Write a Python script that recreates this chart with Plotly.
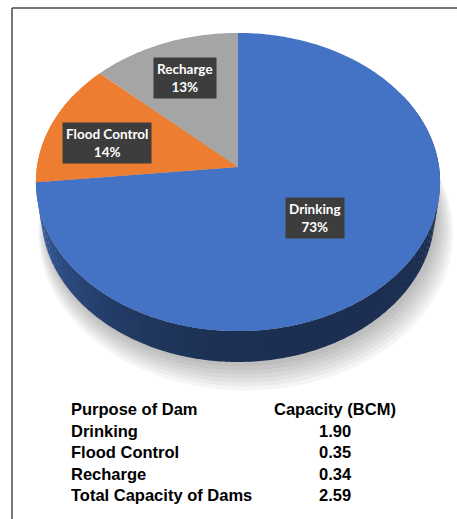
import numpy as np
import plotly.graph_objects as go

# ---------------- data ----------------
purposes = ["Drinking", "Flood Control", "Recharge"]
capacity_bcm = [1.90, 0.35, 0.34]
total_label = "Total Capacity of Dams"
table_headers = ["Purpose of Dam", "Capacity (BCM)"]

# ---------------- style ----------------
top_colors = ["#4472C4", "#ED7D31", "#A5A5A5"]
side_rgb = [(68, 114, 196), (237, 125, 49), (165, 165, 165)]
label_radius = [0.5, 0.7, 0.7]
label_yshift = [0, -8, 0]

W, H = 457, 519
# perspective projection of a unit disk (3D pie look)
ALPHA_S, ALPHA_C = 0.734, 0.679
DIST, FOCAL = 6.74, 1355.0
APEX = (238.0, 167.0)
THICK = 0.241

# table layout (pixels)
TABLE_X1, TABLE_X2 = 70, 335
TABLE_Y0, ROW_STEP = 409, 21.5
TABLE_FONT = dict(family="Liberation Sans", size=16.5, color="black")


def proj(X, Y, Z):
    yc = Y * ALPHA_S + Z * ALPHA_C
    zc = DIST + Y * ALPHA_C - Z * ALPHA_S
    return APEX[0] + FOCAL * X / zc, APEX[1] - FOCAL * yc / zc


def rim(t0, t1, r=1.0, z=0.0, n=None):
    if n is None:
        n = max(4, int(abs(t1 - t0) / 1.0) + 2)
    th = np.radians(np.linspace(t0, t1, n))
    return proj(r * np.sin(th), r * np.cos(th), z * np.ones_like(th))


total = sum(capacity_bcm)
fracs = [v / total for v in capacity_bcm]
bounds = np.concatenate([[0.0], np.cumsum(fracs) * 360.0])

fig = go.Figure()

# soft shadow under the pie (towards bottom-right)
for i in range(7):
    r = 1.0 + 0.01 * i
    xs, ys = rim(0, 360, r=r, z=-THICK - 0.02 - 0.008 * i, n=240)
    xs = xs + 3 + 0.8 * i
    ys = ys + 2 + 1.2 * i
    fig.add_trace(go.Scatter(x=xs, y=ys, fill="toself", mode="none",
                             fillcolor="rgba(0,0,0,0.04)", hoverinfo="skip",
                             showlegend=False))

# side walls (front part), shaded: lit from the left
for k in range(len(purposes)):
    a, b = bounds[k], bounds[k + 1]
    lo, hi = max(a, 60.0), min(b, 300.0)
    if hi <= lo:
        continue
    edges = np.arange(lo, hi, 3.0).tolist() + [hi]
    for t0, t1 in zip(edges[:-1], edges[1:]):
        tm = 0.5 * (t0 + t1)
        w = max(0.0, (tm - 170.0) / 100.0)
        shade = 0.42 + 0.55 * w ** 2
        shade = min(shade, 0.97)
        rr, gg, bb = [int(c * shade) for c in side_rgb[k]]
        x1, y1 = rim(t0, t1 + 0.3, z=0.0)
        x2, y2 = rim(t1 + 0.3, t0, z=-THICK)
        fig.add_trace(go.Scatter(x=np.concatenate([x1, x2]), y=np.concatenate([y1, y2]),
                                 fill="toself", mode="none",
                                 fillcolor=f"rgb({rr},{gg},{bb})",
                                 hoverinfo="skip", showlegend=False))

# top faces of slices
for k, name in enumerate(purposes):
    xs, ys = rim(bounds[k], bounds[k + 1])
    xs = np.concatenate([[APEX[0]], xs, [APEX[0]]])
    ys = np.concatenate([[APEX[1]], ys, [APEX[1]]])
    fig.add_trace(go.Scatter(x=xs, y=ys, fill="toself", mode="none",
                             fillcolor=top_colors[k], name=name,
                             hoverinfo="skip", showlegend=False))

# data callouts
for k, name in enumerate(purposes):
    mid = np.radians(0.5 * (bounds[k] + bounds[k + 1]))
    lx, ly = proj(label_radius[k] * np.sin(mid), label_radius[k] * np.cos(mid), 0.0)
    fig.add_annotation(x=lx, y=ly, xref="x", yref="y", showarrow=False,
                       text=f"<b>{name}<br>{fracs[k]*100:.0f}%</b>",
                       font=dict(family="Lato", size=13.5, color="white"),
                       bgcolor="#3d3d3d", borderpad=3, yshift=label_yshift[k])

# table below the pie
rows_left = [table_headers[0]] + purposes + [total_label]
rows_right = [table_headers[1]] + [f"{v:.2f}" for v in capacity_bcm] + [f"{total:.2f}"]
for i, (lt, rt) in enumerate(zip(rows_left, rows_right)):
    yy = TABLE_Y0 + i * ROW_STEP
    fig.add_annotation(x=TABLE_X1, y=yy, xref="x", yref="y", showarrow=False,
                       xanchor="left", yanchor="middle", text=f"<b>{lt}</b>",
                       font=TABLE_FONT, borderpad=0)
    fig.add_annotation(x=TABLE_X2, y=yy, xref="x", yref="y", showarrow=False,
                       xanchor="center", yanchor="middle", text=f"<b>{rt}</b>",
                       font=TABLE_FONT, borderpad=0)

# frame
fig.add_shape(type="line", xref="paper", yref="paper", x0=12 / W, x1=1.0,
              y0=1 - 8 / H, y1=1 - 8 / H, line=dict(color="#4a4a4a", width=1.5))
fig.add_shape(type="line", xref="paper", yref="paper", x0=12 / W, x1=12 / W,
              y0=0.0, y1=1 - 8 / H, line=dict(color="#4a4a4a", width=1.5))

fig.update_layout(
    width=W, height=H, margin=dict(l=0, r=0, t=0, b=0),
    paper_bgcolor="white", plot_bgcolor="white",
    xaxis=dict(range=[0, W], visible=False, fixedrange=True),
    yaxis=dict(range=[H, 0], visible=False, fixedrange=True),
    showlegend=False,
)

fig.write_html("out.html")
